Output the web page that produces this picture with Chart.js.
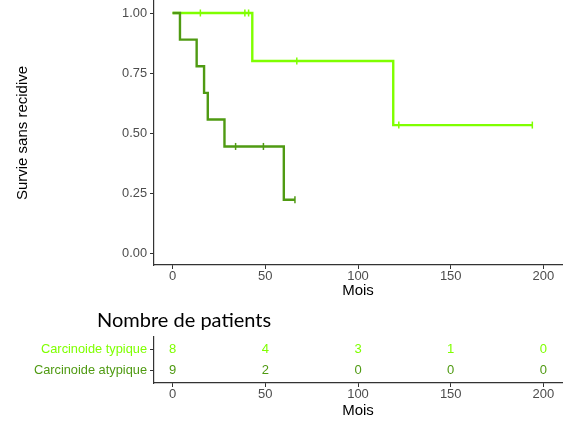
<!DOCTYPE html>
<html>
<head>
<meta charset="utf-8">
<script src="https://cdn.jsdelivr.net/npm/chart.js@4/dist/chart.umd.min.js"></script>
<style>
  html, body { margin: 0; padding: 0; background: #ffffff; }
  #wrap { position: relative; width: 564px; height: 425px; overflow: hidden; }
  #km { position: absolute; left: 0; top: 0; }
  #risk { position: absolute; left: 0; top: 300px; }
  #riskTitle { position: absolute; left: 97px; top: 307px; font: 20px Lato, sans-serif; line-height: 24px; color: #000; white-space: nowrap; }
</style>
</head>
<body>
<div id="wrap">
  <canvas id="km" width="564" height="300"></canvas>
  <canvas id="risk" width="564" height="125"></canvas>
  <div id="riskTitle">Nombre de patients</div>
</div>
<script>
// Groups
const groupNames = ['Carcinoide typique', 'Carcinoide atypique'];
const groupColors = ['#7FFF00', '#4F9A12'];

// Kaplan-Meier steps: time (months) and survival after each step
const typiqueTimes = [0, 43, 119, 194];
const typiqueSurv = [1, 0.8, 0.533, 0.533];
const atypiqueTimes = [0, 4, 13, 17, 19, 28, 60, 66];
const atypiqueSurv = [1, 0.889, 0.778, 0.667, 0.556, 0.444, 0.222, 0.222];

// Censored observations
const typiqueCensorTimes = [15, 39, 41, 67, 122, 194];
const typiqueCensorSurv = [1, 1, 1, 0.8, 0.533, 0.533];
const atypiqueCensorTimes = [34, 49, 66];
const atypiqueCensorSurv = [0.444, 0.444, 0.222];

// Number at risk
const riskTimes = [0, 50, 100, 150, 200];
const typiqueAtRisk = [8, 4, 3, 1, 0];
const atypiqueAtRisk = [9, 2, 0, 0, 0];

// Axis ticks
const xTicks = [0, 50, 100, 150, 200];
const yTicks = [0, 0.25, 0.5, 0.75, 1];

const FONT = 'Liberation Sans, Arial, sans-serif';
const AXIS = '#333333';
const TICK_TEXT = '#4D4D4D';
Chart.defaults.font.family = FONT;

const toPoints = (xs, ys) => xs.map((x, i) => ({ x: x, y: ys[i] }));
const setTicks = vals => scale => { scale.ticks = vals.map(v => ({ value: v })); };
// fixed axis sizes, no extra room reserved for overhanging tick labels
const fixHeight = h => s => { s.height = h; s.paddingLeft = 0; s.paddingRight = 0; };
const fixWidth = w => s => { s.width = w; s.paddingTop = 0; s.paddingBottom = 0; };

const xScaleBase = {
  type: 'linear',
  min: -10,
  max: 210,
  afterBuildTicks: setTicks(xTicks),
  grid: { display: true, drawOnChartArea: false, drawTicks: true, tickLength: 4, color: AXIS, lineWidth: 1 },
  border: { display: true, color: AXIS, width: 1.2 },
  ticks: { color: TICK_TEXT, font: { size: 13 }, padding: 0, maxRotation: 0, autoSkip: false },
  title: { display: true, text: 'Mois', color: '#000', font: { size: 15 } }
};

// Survival curves (lower order is drawn on top)
new Chart(document.getElementById('km'), {
  type: 'scatter',
  data: {
    datasets: [
      { data: toPoints(typiqueTimes, typiqueSurv), order: 2, showLine: true, stepped: 'before', borderColor: groupColors[0], borderWidth: 2.4, pointRadius: 0 },
      { data: toPoints(atypiqueTimes, atypiqueSurv), order: 1, showLine: true, stepped: 'before', borderColor: groupColors[1], borderWidth: 2.4, pointRadius: 0 },
      { data: toPoints(typiqueCensorTimes, typiqueCensorSurv), order: 0, showLine: false, pointStyle: 'line', rotation: 90, pointRadius: 3.5, borderColor: groupColors[0], borderWidth: 1.5 },
      { data: toPoints(atypiqueCensorTimes, atypiqueCensorSurv), order: 0, showLine: false, pointStyle: 'line', rotation: 90, pointRadius: 3.5, borderColor: groupColors[1], borderWidth: 1.5 }
    ]
  },
  options: {
    responsive: false,
    animation: false,
    events: [],
    layout: { autoPadding: false, padding: { top: 1, right: 2, bottom: 0, left: 0 } },
    plugins: { legend: { display: false }, tooltip: { enabled: false } },
    scales: {
      x: Object.assign({}, xScaleBase, {
        afterFit: fixHeight(35),
        title: { display: true, text: 'Mois', color: '#000', font: { size: 15 }, padding: { top: 0, bottom: 0 } }
      }),
      y: {
        type: 'linear',
        min: -0.05,
        max: 1.05,
        afterBuildTicks: setTicks(yTicks),
        afterFit: fixWidth(154),
        grid: { display: true, drawOnChartArea: false, drawTicks: true, tickLength: 4, color: AXIS, lineWidth: 1 },
        border: { display: true, color: AXIS, width: 1.2 },
        ticks: { color: TICK_TEXT, font: { size: 12.8 }, padding: 3, callback: v => Number(v).toFixed(2) },
        title: { display: true, text: 'Survie sans recidive', color: '#000', font: { size: 15 }, padding: { top: 14, bottom: 0 } }
      }
    }
  }
});

// Number-at-risk table: counts drawn at each table position
const riskLabels = {
  id: 'riskLabels',
  afterDatasetsDraw(chart) {
    const ctx = chart.ctx;
    chart.data.datasets.forEach((ds, i) => {
      const meta = chart.getDatasetMeta(i);
      ctx.save();
      ctx.fillStyle = ds.textColor;
      ctx.font = '13px ' + FONT;
      ctx.textAlign = 'center';
      ctx.textBaseline = 'middle';
      meta.data.forEach((pt, j) => { ctx.fillText(String(ds.data[j].n), pt.x, pt.y); });
      ctx.restore();
    });
  }
};

const rowOf = { 2: 0, 1: 1 };
new Chart(document.getElementById('risk'), {
  type: 'scatter',
  data: {
    datasets: [
      { data: riskTimes.map((t, j) => ({ x: t, y: 2, n: typiqueAtRisk[j] })), pointRadius: 0, textColor: groupColors[0] },
      { data: riskTimes.map((t, j) => ({ x: t, y: 1, n: atypiqueAtRisk[j] })), pointRadius: 0, textColor: groupColors[1] }
    ]
  },
  options: {
    responsive: false,
    animation: false,
    events: [],
    layout: { autoPadding: false, padding: { top: 37, right: 2, bottom: 0, left: 0 } },
    plugins: { legend: { display: false }, tooltip: { enabled: false } },
    scales: {
      x: Object.assign({}, xScaleBase, {
        afterFit: fixHeight(42),
        title: { display: true, text: 'Mois', color: '#000', font: { size: 15 }, padding: { top: 0, bottom: 5 } }
      }),
      y: {
        type: 'linear',
        min: 0.4,
        max: 2.6,
        afterBuildTicks: setTicks([1, 2]),
        afterFit: fixWidth(154),
        grid: { display: true, drawOnChartArea: false, drawTicks: true, tickLength: 4, color: AXIS, lineWidth: 1 },
        border: { display: true, color: AXIS, width: 1.2 },
        ticks: {
          font: { size: 12.8 },
          padding: 3,
          color: c => groupColors[rowOf[c.tick.value]],
          callback: v => groupNames[rowOf[v]]
        }
      }
    }
  },
  plugins: [riskLabels]
});
</script>
</body>
</html>
